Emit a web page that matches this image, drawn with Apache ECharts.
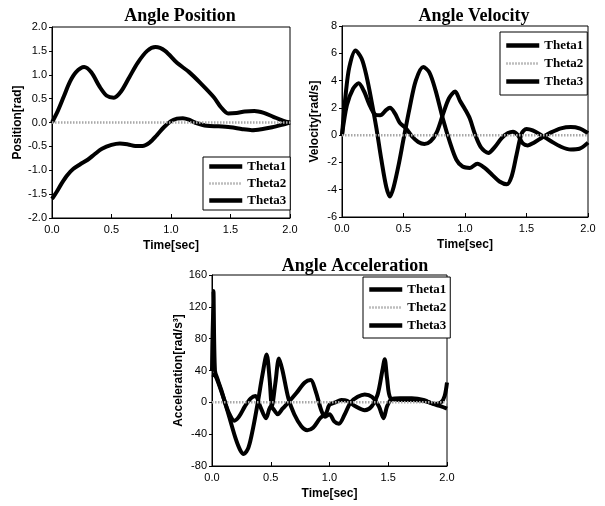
<!DOCTYPE html>
<html>
<head>
<meta charset="utf-8">
<script src="https://cdn.jsdelivr.net/npm/echarts@6/dist/echarts.min.js"></script>
<style>
  html, body { margin: 0; padding: 0; background: #fff; }
  #chart { width: 605px; height: 506px; }
</style>
</head>
<body>
<div id="chart"></div>
<script>
  // Angle position [rad]
  const posT1Time = [0, 0.05, 0.1, 0.15, 0.2, 0.27, 0.33, 0.4, 0.46, 0.52, 0.58, 0.65, 0.72, 0.8, 0.87, 0.95, 1.05, 1.15, 1.25, 1.36, 1.42, 1.48, 1.55, 1.62, 1.7, 1.78, 1.86, 1.94, 2.0];
  const posTheta1 = [0, 0.25, 0.55, 0.85, 1.05, 1.16, 1.05, 0.75, 0.56, 0.52, 0.65, 0.95, 1.25, 1.5, 1.58, 1.5, 1.25, 1.06, 0.82, 0.53, 0.32, 0.19, 0.2, 0.23, 0.24, 0.2, 0.12, 0.04, 0];
  const posT3Time = [0, 0.04, 0.08, 0.13, 0.18, 0.24, 0.3, 0.36, 0.42, 0.5, 0.57, 0.64, 0.7, 0.76, 0.82, 0.88, 0.94, 1.0, 1.05, 1.1, 1.15, 1.2, 1.3, 1.4, 1.5, 1.6, 1.68, 1.76, 1.85, 1.93, 2.0];
  const posTheta3 = [-1.6, -1.45, -1.28, -1.1, -0.97, -0.87, -0.78, -0.66, -0.55, -0.47, -0.44, -0.46, -0.49, -0.49, -0.42, -0.27, -0.1, 0.03, 0.08, 0.09, 0.06, 0.0, -0.07, -0.08, -0.1, -0.14, -0.16, -0.14, -0.1, -0.05, 0];

  // Angle velocity [rad/s]
  const velT1Time = [0, 0.03, 0.06, 0.11, 0.16, 0.2, 0.24, 0.28, 0.32, 0.36, 0.39, 0.42, 0.46, 0.5, 0.55, 0.6, 0.66, 0.71, 0.76, 0.82, 0.88, 0.93, 0.98, 1.04, 1.1, 1.16, 1.22, 1.28, 1.34, 1.38, 1.42, 1.46, 1.5, 1.55, 1.62, 1.7, 1.78, 1.86, 1.93, 2.0];
  const velTheta1 = [0, 3.0, 5.0, 6.2, 5.6, 4.3, 2.5, 0.5, -1.8, -3.8, -4.5, -3.8, -2.2, -0.3, 2.0, 4.0, 5.0, 4.6, 3.3, 1.2, -0.6, -1.8, -2.3, -2.4, -2.1, -2.4, -2.9, -3.4, -3.6, -3.0, -1.4, 0.1, 0.45, 0.35, 0.0, -0.45, -0.85, -1.05, -1.0, -0.55];
  const velT3Time = [0, 0.04, 0.09, 0.135, 0.18, 0.22, 0.27, 0.31, 0.36, 0.39, 0.43, 0.47, 0.52, 0.57, 0.62, 0.67, 0.72, 0.77, 0.82, 0.87, 0.92, 0.96, 1.0, 1.04, 1.08, 1.13, 1.19, 1.24, 1.3, 1.35, 1.39, 1.43, 1.47, 1.51, 1.56, 1.63, 1.7, 1.78, 1.86, 1.93, 2.0];
  const velTheta3 = [0, 2.2, 3.4, 3.8, 3.2, 2.3, 1.5, 1.45, 1.85, 2.0, 1.6, 0.9, 0.5, -0.1, -0.5, -0.65, -0.45, 0.2, 1.5, 2.7, 3.2, 2.5, 1.9, 1.2, 0.1, -0.9, -1.3, -0.9, -0.2, 0.15, 0.25, 0.0, -0.6, -0.75, -0.55, -0.15, 0.2, 0.5, 0.6, 0.5, 0.15];

  // Angle acceleration [rad/s^2]
  const accT1Time = [0, 0.012, 0.025, 0.05, 0.08, 0.11, 0.15, 0.2, 0.24, 0.27, 0.31, 0.35, 0.39, 0.43, 0.465, 0.49, 0.51, 0.54, 0.57, 0.6, 0.65, 0.7, 0.76, 0.81, 0.86, 0.92, 0.97, 1.0, 1.05, 1.1, 1.15, 1.22, 1.3, 1.36, 1.41, 1.45, 1.47, 1.49, 1.52, 1.6, 1.7, 1.8, 1.9, 1.95, 1.98, 2.0];
  const accTheta1 = [40, 140, 40, 28, 15, 0, -20, -45, -60, -65, -57, -32, 0, 35, 60, 30, -5, 25, 55, 40, 5, -15, -30, -35, -32, -20, -14, -3, 0, 3, 2, -5, -10, -5, 10, 40, 54, 30, 5, 3, 3, 2, -2, 0, 8, 25];
  const accT3Time = [0, 0.03, 0.06, 0.1, 0.14, 0.19, 0.23, 0.28, 0.33, 0.37, 0.41, 0.46, 0.5, 0.53, 0.56, 0.6, 0.65, 0.72, 0.79, 0.84, 0.88, 0.93, 0.96, 1.0, 1.04, 1.08, 1.13, 1.18, 1.24, 1.3, 1.36, 1.42, 1.46, 1.49, 1.53, 1.6, 1.7, 1.8, 1.88, 1.95, 2.0];
  const accTheta3 = [35, 33, 22, 5, -12, -23, -18, -5, 5, 8, -5, -20, -5, -10, -15, -8, 0, 12, 25, 28, 15, -10, -18, -15, -24, -27, -15, 0, 7, 10, 7, -5, -20, -5, 4, 5, 5, 3, -2, -5, -8];

  // Theta2 stays at zero
  const zeroTime = [0, 2];
  const zeroTheta2 = [0, 0];

  const timeTicks = { min: 0, max: 2, interval: 0.5 };
  const posTicks = { min: -2, max: 2, interval: 0.5 };
  const velTicks = { min: -6, max: 8, interval: 2 };
  const accTicks = { min: -80, max: 160, interval: 40 };

  const pairs = (ts, vs) => ts.map((t, i) => [t, vs[i]]);

  const sans = 'Liberation Sans, Arial, sans-serif';
  const serif = 'Liberation Serif, Times New Roman, serif';
  const grayDot = { color: '#a8a8a8', width: 2.5, type: [1.5, 1.5] };

  function xAxisFor(idx, ticks) {
    return {
      type: 'value', gridIndex: idx,
      min: ticks.min, max: ticks.max, interval: ticks.interval,
      name: 'Time[sec]', nameLocation: 'middle', nameGap: 22,
      nameTextStyle: { fontFamily: sans, fontWeight: 'bold', fontSize: 12, color: '#000' },
      axisLine: { onZero: false, lineStyle: { color: '#000', width: 1 } },
      axisTick: { inside: true, length: 4, lineStyle: { color: '#000' } },
      axisLabel: { margin: 6, fontFamily: sans, fontSize: 11, color: '#000', formatter: v => v.toFixed(1) },
      splitLine: { show: false }
    };
  }

  function yAxisFor(idx, ticks, name, gap, digits) {
    return {
      type: 'value', gridIndex: idx,
      min: ticks.min, max: ticks.max, interval: ticks.interval,
      name: name, nameLocation: 'middle', nameGap: gap,
      nameTextStyle: { fontFamily: sans, fontWeight: 'bold', fontSize: 12, color: '#000' },
      axisLine: { show: true, onZero: false, lineStyle: { color: '#000', width: 1 } },
      axisTick: { show: true, length: 3, lineStyle: { color: '#000' } },
      axisLabel: { margin: 5, fontFamily: sans, fontSize: 11, color: '#000', formatter: v => v.toFixed(digits) },
      splitLine: { show: false }
    };
  }

  function thick(name, idx, data) {
    return {
      name: name, type: 'line', xAxisIndex: idx, yAxisIndex: idx,
      data: data, smooth: 0.3, symbol: 'none',
      lineStyle: { color: '#000', width: 4 }, itemStyle: { color: '#000' }
    };
  }

  function dotted(idx, data) {
    return {
      name: 'Theta2', type: 'line', xAxisIndex: idx, yAxisIndex: idx, z: 3,
      data: data, symbol: 'none',
      lineStyle: grayDot, itemStyle: { color: '#a8a8a8' }
    };
  }

  function legendAt(left, top, pad, gap) {
    return {
      left: left, top: top, orient: 'vertical',
      data: [
        { name: 'Theta1', lineStyle: { color: '#000', width: 4.5 } },
        { name: 'Theta2', lineStyle: grayDot },
        { name: 'Theta3', lineStyle: { color: '#000', width: 4.5 } }
      ],
      itemWidth: 33, itemHeight: 12, itemGap: gap, padding: pad,
      itemStyle: { opacity: 0 },
      borderColor: '#000', borderWidth: 1, backgroundColor: '#fff',
      selectedMode: false,
      textStyle: { fontFamily: serif, fontWeight: 'bold', fontSize: 13, color: '#000' }
    };
  }

  const titleStyle = { fontFamily: serif, fontWeight: 'bold', fontSize: 18, color: '#000' };

  const chart = echarts.init(document.getElementById('chart'));
  chart.setOption({
    animation: false,
    backgroundColor: '#fff',
    title: [
      { text: 'Angle Position', left: 175, top: 2, textAlign: 'center', textStyle: titleStyle },
      { text: 'Angle Velocity', left: 469, top: 2, textAlign: 'center', textStyle: titleStyle },
      { text: 'Angle Acceleration', left: 350, top: 252, textAlign: 'center', textStyle: titleStyle }
    ],
    legend: [
      legendAt(203, 157, [3, 4, 3, 4], 4),
      legendAt(500, 32, [7, 4, 7, 4], 5),
      legendAt(363, 277, [6, 4, 6, 4], 5)
    ],
    grid: [
      { left: 52, top: 27, width: 238, height: 191, show: true, borderColor: '#000', borderWidth: 1 },
      { left: 342, top: 26, width: 246, height: 191, show: true, borderColor: '#000', borderWidth: 1 },
      { left: 212, top: 275, width: 235, height: 191, show: true, borderColor: '#000', borderWidth: 1 }
    ],
    xAxis: [xAxisFor(0, timeTicks), xAxisFor(1, timeTicks), xAxisFor(2, timeTicks)],
    yAxis: [
      yAxisFor(0, posTicks, 'Position[rad]', 28, 1),
      yAxisFor(1, velTicks, 'Velocity[rad/s]', 21, 0),
      yAxisFor(2, accTicks, 'Acceleration[rad/s³]', 25, 0)
    ],
    series: [
      thick('Theta1', 0, pairs(posT1Time, posTheta1)),
      thick('Theta3', 0, pairs(posT3Time, posTheta3)),
      dotted(0, pairs(zeroTime, zeroTheta2)),
      thick('Theta1', 1, pairs(velT1Time, velTheta1)),
      thick('Theta3', 1, pairs(velT3Time, velTheta3)),
      dotted(1, pairs(zeroTime, zeroTheta2)),
      thick('Theta1', 2, pairs(accT1Time, accTheta1)),
      thick('Theta3', 2, pairs(accT3Time, accTheta3)),
      dotted(2, pairs(zeroTime, zeroTheta2))
    ]
  });
</script>
</body>
</html>
